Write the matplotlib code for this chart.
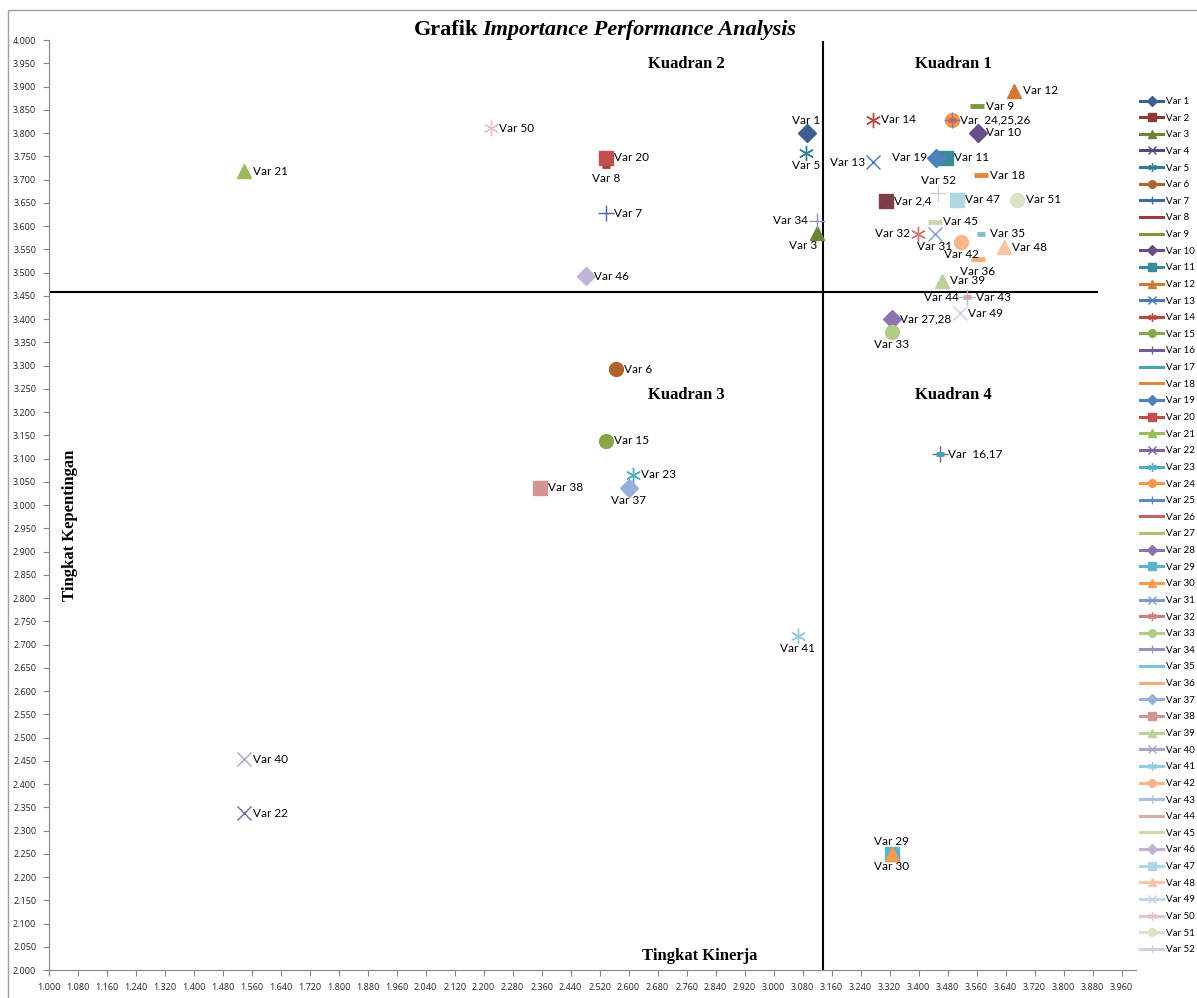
import matplotlib
matplotlib.use('Agg')
import matplotlib.pyplot as plt
from matplotlib.lines import Line2D
from matplotlib.patches import Rectangle
import numpy as np

# data: tingkat kinerja (x) and tingkat kepentingan (y) for Var 1..52
names = ['Var %d' % i for i in range(1, 53)]
kinerja = [3.091, 3.310, 3.119, 3.310, 3.089, 2.565, 2.537, 2.539, 3.562, 3.563,
           3.475, 3.664, 3.275, 3.273, 2.537, 3.458, 3.458, 3.573, 3.447, 2.537,
           1.540, 1.540, 2.611, 3.492, 3.492, 3.492, 3.326, 3.326, 3.326, 3.326,
           3.445, 3.399, 3.326, 3.119, 3.573, 3.563, 2.601, 2.356, 3.465, 1.540,
           3.067, 3.517, 3.535, 3.535, 3.445, 2.482, 3.505, 3.635, 3.514, 2.220,
           3.673, 3.454]
kepentingan = [3.801, 3.654, 3.586, 3.654, 3.756, 3.292, 3.627, 3.728, 3.857, 3.801,
               3.747, 3.891, 3.737, 3.828, 3.138, 3.110, 3.110, 3.709, 3.747, 3.747,
               3.718, 2.337, 3.065, 3.828, 3.828, 3.828, 3.401, 3.401, 2.250, 2.250,
               3.583, 3.583, 3.373, 3.611, 3.583, 3.529, 3.037, 3.037, 3.482, 2.453,
               2.718, 3.566, 3.447, 3.447, 3.609, 3.492, 3.656, 3.554, 3.412, 3.810,
               3.656, 3.672]
x_mean = 3.137
y_mean = 3.458

# (label text, series number, side)
point_labels = [
    ('Var 1', 1, 'above'), ('Var 2,4', 2, 'right'), ('Var 3', 3, 'belowleft'),
    ('Var 5', 5, 'below'), ('Var 6', 6, 'right'), ('Var 7', 7, 'right'),
    ('Var 8', 8, 'below'), ('Var 9', 9, 'right'), ('Var 10', 10, 'right'),
    ('Var 11', 11, 'right'), ('Var 12', 12, 'right'), ('Var 13', 13, 'left'),
    ('Var 14', 14, 'right'), ('Var 15', 15, 'right'), ('Var  16,17', 16, 'right'),
    ('Var 18', 18, 'right'), ('Var 19', 19, 'left'), ('Var 20', 20, 'right'),
    ('Var 21', 21, 'right'), ('Var 22', 22, 'right'), ('Var 23', 23, 'right'),
    ('Var  24,25,26', 24, 'right'), ('Var 27,28', 27, 'right'), ('Var 29', 29, 'above'),
    ('Var 30', 30, 'below'), ('Var 31', 31, 'below'), ('Var 32', 32, 'left'),
    ('Var 33', 33, 'below'), ('Var 34', 34, 'left'), ('Var 35', 35, 'right'),
    ('Var 36', 36, 'below'), ('Var 37', 37, 'below'), ('Var 38', 38, 'right'),
    ('Var 39', 39, 'right'), ('Var 40', 40, 'right'), ('Var 41', 41, 'below'),
    ('Var 42', 42, 'below'), ('Var 43', 43, 'right'), ('Var 44', 44, 'left'),
    ('Var 45', 45, 'right'), ('Var 46', 46, 'right'), ('Var 47', 47, 'right'),
    ('Var 48', 48, 'right'), ('Var 49', 49, 'right'), ('Var 50', 50, 'right'),
    ('Var 51', 51, 'right'), ('Var 52', 52, 'above'),
]

colors = ['#3c5f8f', '#8b3b3a', '#6a8535', '#5b4479', '#2e7f8f', '#b0632a',
          '#4169a8', '#a33a3a', '#7a9a3a', '#6a4e8a', '#3a8a9a', '#d07a35',
          '#4a78b8', '#b84845', '#86a64a', '#735a94', '#4aa0b5', '#e5853c',
          '#4f81bd', '#c0504d', '#9bbb59', '#8064a2', '#4bacc6', '#f79646',
          '#5b8ac6', '#c9625f', '#a6c46d', '#8d74ae', '#5bb4cc', '#f89c50',
          '#7c9ccf', '#cf7c7a', '#b2cb85', '#a08dc0', '#7ec1d6', '#f9ad74',
          '#95b0d9', '#d49494', '#bcd296', '#b1a2ca', '#93cddd', '#fab68a',
          '#a9bfe0', '#deaaaa', '#c9daa8', '#c0b4d6', '#aed7e3', '#fbc6a6',
          '#c6d3ea', '#e8c5c5', '#d8e4c6', '#d3cde2']

# excel default marker cycle: diamond, square, triangle, x, star, circle, plus, short dash, long dash
star = (6, 2, 0)
marker_cycle = [('D', 9, 1), ('s', 10, 1), ('^', 10, 1), ('x', 10, 1), (star, 11, 1),
                ('o', 10, 1), ('+', 11, 1), ('_', 6, 3.5), ('_', 10, 3.5)]

W, H = 1197, 998
fig = plt.figure(figsize=(W / 100, H / 100), dpi=100)


def fx(px):
    return px / W


def fy(py):
    return 1 - py / H


ax = fig.add_axes([fx(48.7), fy(970), fx(1136) - fx(48.7), fy(40) - fy(970)])

label_font = 'Lato'
tick_font = 'Open Sans'
serif = 'Liberation Serif'

handles = []
for i in range(52):
    m, ms, mew = marker_cycle[i % 9]
    c = colors[i]
    ax.plot(kinerja[i], kepentingan[i], linestyle='none', marker=m, ms=ms,
            color=c, mec=c, mew=mew, zorder=3)
    handles.append(Line2D([0], [0], color=c, lw=2.2, marker=m,
                          ms=ms * 0.55, mec=c, mew=max(mew * 0.6, 1)))

# quadrant lines
ax.plot([x_mean, x_mean], [2.0, 3.996], color='black', lw=1.5, zorder=2)
ax.plot([1.0, 3.892], [y_mean, y_mean], color='black', lw=1.5, zorder=2)

offsets = {'right': (6, 0, 'left', 'center'), 'left': (-6, 0, 'right', 'center'),
           'above': (0, 9, 'center', 'center'), 'below': (0, -9, 'center', 'center'),
           'belowleft': (-10, -9, 'center', 'center')}
for text, n, side in point_labels:
    dx, dy, ha, va = offsets[side]
    ax.annotate(text, (kinerja[n - 1], kepentingan[n - 1]), xytext=(dx, dy),
                textcoords='offset points', ha=ha, va=va, fontsize=8.5,
                family=label_font, color='black', zorder=4)

ax.set_xlim(1.0, 4.0)
ax.set_ylim(2.0, 4.0)
ax.set_xticks(np.arange(1.0, 3.961, 0.08))
ax.set_yticks(np.arange(2.0, 4.001, 0.05))
ax.xaxis.set_major_formatter(matplotlib.ticker.FormatStrFormatter('%.3f'))
ax.yaxis.set_major_formatter(matplotlib.ticker.FormatStrFormatter('%.3f'))
ax.tick_params(axis='both', direction='out', length=4, width=0.8, color='#868686',
               labelsize=6.5, labelcolor='#222222', pad=5)
for lab in ax.get_xticklabels() + ax.get_yticklabels():
    lab.set_family(tick_font)
for s in ['top', 'right']:
    ax.spines[s].set_visible(False)
for s in ['left', 'bottom']:
    ax.spines[s].set_color('#868686')
    ax.spines[s].set_linewidth(0.8)
ax.patch.set_alpha(0)

# titles and quadrant captions
fig.text(fx(478), fy(30), 'Grafik', ha='right', va='center', fontsize=16,
         fontweight='bold', family=serif)
fig.text(fx(482), fy(30), 'Importance Performance Analysis', ha='left', va='center',
         fontsize=16, fontweight='bold', style='italic', family=serif)
for txt, x, y in [('Kuadran 2', 686, 64), ('Kuadran 1', 953, 64),
                  ('Kuadran 3', 686, 395), ('Kuadran 4', 953, 395)]:
    fig.text(fx(x), fy(y), txt, ha='center', va='center', fontsize=12,
             fontweight='bold', family=serif)
fig.text(fx(700), fy(956), 'Tingkat Kinerja', ha='center', va='center', fontsize=12,
         fontweight='bold', family=serif)
fig.text(fx(70), fy(525), 'Tingkat Kepentingan', ha='center', va='center', fontsize=12,
         fontweight='bold', family=serif, rotation=90)

leg = fig.legend(handles, names, loc='upper left', bbox_to_anchor=(fx(1140), fy(97)),
                 frameon=False, prop={'family': label_font, 'size': 7},
                 handlelength=2.4, handletextpad=0.25, labelspacing=0.785,
                 borderpad=0, borderaxespad=0)

# chart area border
fig.patches.append(Rectangle((fx(8), fy(1010)), 1.2, fy(10) - fy(1010),
                             transform=fig.transFigure, fill=False,
                             edgecolor='#a0a0a0', lw=1))

fig.savefig('out.png', dpi=100)
